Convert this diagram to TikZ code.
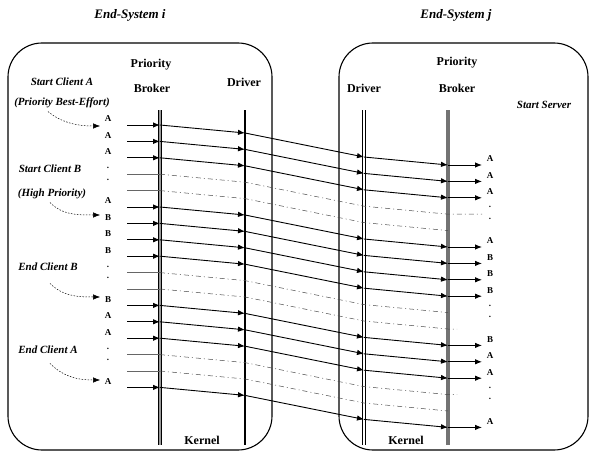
\documentclass[tikz,border=0pt]{standalone}
\usepackage{fontspec}
\setmainfont{Liberation Serif}
\usetikzlibrary{arrows.meta}
\begin{document}
\begin{tikzpicture}[x=1pt,y=-1pt,
    sysbox/.style={line width=1.1pt,rounded corners=34pt},
    msg/.style={line width=0.9pt,-{Latex[length=7pt,width=5.5pt]}},
    idle/.style={line width=0.5pt,black!70,dash pattern=on 5pt off 3pt on 1pt off 3pt},
    pointer/.style={line width=0.5pt,dash pattern=on 1.5pt off 1.5pt,-{Latex[length=7pt,width=5.5pt]}},
    note/.style={font=\fontsize{11}{13}\selectfont\bfseries\itshape},
    title/.style={font=\fontsize{13}{15}\selectfont\bfseries\itshape},
    layer/.style={font=\fontsize{12}{14}\selectfont\bfseries},
    pkt/.style={font=\fontsize{9}{10}\selectfont\bfseries,inner sep=0pt}]
    \useasboundingbox (0,0) rectangle (589,452);
    % End-systems
    \draw[sysbox] (8,43) rectangle (272,450);
    \draw[sysbox] (339,43) rectangle (588,450);
    \node[title] (esi) at (130,15) {End-System i};
    \node[title] (esj) at (456,15) {End-System j};
    % Layer names
    \node[layer] (pbiT) at (151,65) {Priority};
    \node[layer] (pbiB) at (152,88) {Broker};
    \node[layer] (dri) at (244,82) {Driver};
    \node[layer] (drj) at (364,88) {Driver};
    \node[layer] (pbjT) at (457,63) {Priority};
    \node[layer] (pbjB) at (457,88) {Broker};
    \node[layer] (kri) at (202,440) {Kernel};
    \node[layer] (krj) at (406,440) {Kernel};
    % Brokers and drivers
    \draw[double=black!40,double distance=2pt,line width=0.7pt] (160,110) -- (160,445);
    \draw[line width=1.8pt] (245,110) -- (245,445);
    \draw[double,double distance=2pt,line width=0.7pt] (364,110) -- (364,445);
    \draw[black!55,line width=3.5pt] (448,110) -- (448,445);
    % Packets sent
    \foreach \i/\lab in {1/A,2/A,3/A,6/A,7/B,8/B,9/B,12/B,13/A,14/A,17/A}{
      \pgfmathsetmacro\y{125+16.4*(\i-1)}
      \coordinate (src\i) at (127,\y);
      \coordinate (pbi\i) at (160,\y);
      \coordinate (dri\i) at (245,\y+8);
      \coordinate (drj\i) at (364,\y+32);
      \coordinate (pbj\i) at (448,\y+40);
      \coordinate (dst\i) at (482,\y+40);
      \draw[msg] (src\i) -- (pbi\i);
      \draw[msg] (pbi\i) -- (dri\i);
      \draw[msg] (dri\i) -- (drj\i);
      \draw[msg] (drj\i) -- (pbj\i);
      \draw[msg] (pbj\i) -- (dst\i);
      \node[pkt] (in\i) at (108,\y-6) {\lab};
      \node[pkt] (out\i) at (490,\y+34) {\lab};
    }
    % Idle slots
    \foreach \i/\ext/\dy in {4/482/6,5/448/11,10/448/6,11/457/11,15/457/6,16/448/11}{
      \pgfmathsetmacro\y{125+16.4*(\i-1)}
      \coordinate (src\i) at (127,\y);
      \coordinate (pbi\i) at (160,\y);
      \coordinate (dri\i) at (245,\y+8);
      \coordinate (drj\i) at (364,\y+32);
      \coordinate (pbj\i) at (448,\y+40);
      \coordinate (dst\i) at (\ext,\y+40);
      \draw[black!60,line width=0.5pt] (src\i) -- (pbi\i);
      \draw[idle] (pbi\i) -- (dri\i) -- (drj\i) -- (pbj\i) -- (dst\i);
      \node[pkt] (in\i) at (108,\y-\dy) {.};
      \node[pkt] (out\i) at (490,\y+39-\dy) {.};
    }
    % Client events
    \node[note] (cliA) at (62,82) {Start Client A};
    \node[note] (bestA) at (62,103) {(Priority Best-Effort)};
    \node[note] (cliB) at (50,169) {Start Client B};
    \node[note] (highB) at (52,194) {(High Priority)};
    \node[note] (endB) at (48,267) {End Client B};
    \node[note] (endA) at (48,350) {End Client A};
    \node[note] (srv) at (544,105) {Start Server};
    \coordinate (tip1) at (100,126);
    \coordinate (tip7) at (100,215);
    \coordinate (tip12) at (100,297);
    \coordinate (tip17) at (100,380);
    \draw[pointer] ([xshift=-14pt]bestA.south) .. controls +(12,10) and +(-25,0) .. (tip1);
    \draw[pointer] ([xshift=-2pt]highB.south) .. controls +(12,12) and +(-25,0) .. (tip7);
    \draw[pointer] ([xshift=2pt,yshift=-9pt]endB.south) .. controls +(12,12) and +(-25,0) .. (tip12);
    \draw[pointer] ([xshift=2pt,yshift=-6pt]endA.south) .. controls +(12,12) and +(-25,0) .. (tip17);
\end{tikzpicture}
\end{document}
